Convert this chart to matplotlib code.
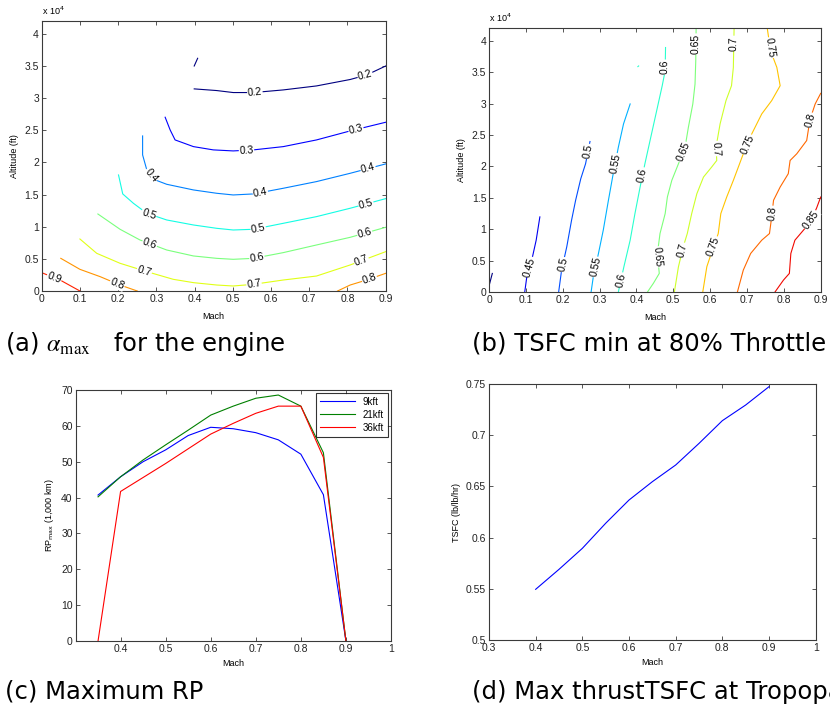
import numpy as np
import matplotlib
matplotlib.use("Agg")
import matplotlib.pyplot as plt
from matplotlib import cm
from matplotlib.colors import Normalize

plt.rcParams["font.family"] = ["Liberation Sans", "DejaVu Sans"]

# ---- (a) alpha_max contours : Mach / altitude (x 1e4 ft) ----
A02_M = [0.399, 0.458, 0.501, 0.554, 0.632, 0.719, 0.807, 0.850, 0.900]
A02_H = [3.144, 3.118, 3.087, 3.087, 3.128, 3.190, 3.290, 3.360, 3.500]
A02B_M = [0.399, 0.408]
A02B_H = [3.50, 3.62]
A03_M = [0.323, 0.336, 0.349, 0.397, 0.449, 0.501, 0.554, 0.632, 0.719, 0.807, 0.900]
A03_H = [2.703, 2.506, 2.350, 2.246, 2.195, 2.179, 2.195, 2.246, 2.350, 2.490, 2.625]
A04_M = [0.264, 0.264, 0.275, 0.297, 0.327, 0.397, 0.458, 0.501, 0.554, 0.632, 0.719, 0.807, 0.900]
A04_H = [2.412, 2.117, 1.883, 1.728, 1.660, 1.572, 1.520, 1.494, 1.510, 1.598, 1.702, 1.831, 1.977]
A05_M = [0.201, 0.212, 0.240, 0.275, 0.327, 0.397, 0.458, 0.501, 0.554, 0.632, 0.719, 0.807, 0.900]
A05_H = [1.805, 1.510, 1.364, 1.209, 1.105, 1.027, 0.975, 0.949, 0.960, 1.053, 1.157, 1.287, 1.437]
A06_M = [0.147, 0.205, 0.257, 0.327, 0.397, 0.458, 0.501, 0.554, 0.632, 0.719, 0.807, 0.900]
A06_H = [1.198, 0.960, 0.794, 0.638, 0.545, 0.508, 0.493, 0.508, 0.597, 0.716, 0.835, 0.991]
A07_M = [0.100, 0.144, 0.205, 0.275, 0.344, 0.397, 0.458, 0.501, 0.554, 0.632, 0.719, 0.807, 0.900]
A07_H = [0.809, 0.586, 0.431, 0.301, 0.182, 0.130, 0.093, 0.078, 0.104, 0.171, 0.233, 0.405, 0.612]
A08_M = [0.050, 0.100, 0.153, 0.205, 0.250]
A08_H = [0.508, 0.337, 0.223, 0.093, 0.0]
A08B_M = [0.774, 0.807, 0.850, 0.900]
A08B_H = [0.0, 0.093, 0.171, 0.275]
A09_M = [0.0, 0.048, 0.100]
A09_H = [0.285, 0.171, 0.0]

A_LAB_LEVEL = [0.2, 0.2, 0.3, 0.3, 0.4, 0.4, 0.4, 0.5, 0.5, 0.5, 0.6, 0.6, 0.6, 0.7, 0.7, 0.7, 0.8, 0.8, 0.9]
A_LAB_M = [0.558, 0.844, 0.536, 0.824, 0.286, 0.573, 0.855, 0.279, 0.567, 0.849,
           0.279, 0.564, 0.846, 0.268, 0.556, 0.837, 0.196, 0.859, 0.031]
A_LAB_H = [3.07, 3.40, 2.16, 2.47, 1.80, 1.50, 1.88, 1.17, 0.955, 1.34,
           0.68, 0.49, 0.88, 0.30, 0.085, 0.46, 0.09, 0.16, 0.18]

# ---- (b) TSFC min contours ----
B040_M = [0.0, 0.009]
B040_H = [0.095, 0.296]
B045_M = [0.097, 0.102, 0.116, 0.128, 0.138]
B045_H = [0.0, 0.217, 0.508, 0.825, 1.196]
B050_M = [0.189, 0.197, 0.211, 0.224, 0.235, 0.249, 0.262, 0.274]
B050_H = [0.0, 0.349, 0.720, 1.143, 1.460, 1.804, 2.042, 2.397]
B055_M = [0.277, 0.283, 0.297, 0.310, 0.324, 0.337, 0.351, 0.365, 0.383]
B055_H = [0.0, 0.243, 0.614, 0.984, 1.460, 1.884, 2.307, 2.677, 2.995]
B060_M = [0.351, 0.366, 0.383, 0.396, 0.410, 0.423, 0.437, 0.455, 0.470, 0.478, 0.479]
B060_H = [0.0, 0.402, 0.825, 1.249, 1.672, 2.042, 2.413, 2.889, 3.286, 3.524, 3.894]
B060B_M = [0.404, 0.406]
B060B_H = [3.59, 3.60]
B065_M = [0.430, 0.446, 0.462, 0.457, 0.464, 0.478, 0.484, 0.496, 0.514, 0.532, 0.541, 0.553, 0.559, 0.561, 0.562]
B065_H = [0.0, 0.138, 0.296, 0.614, 0.931, 1.249, 1.513, 1.778, 2.042, 2.307, 2.624, 2.995, 3.312, 3.683, 4.2]
B070_M = [0.503, 0.514, 0.527, 0.538, 0.550, 0.564, 0.582, 0.604, 0.618, 0.616, 0.627, 0.643, 0.658, 0.663, 0.665]
B070_H = [0.0, 0.402, 0.720, 0.931, 1.249, 1.566, 1.831, 1.989, 2.095, 2.307, 2.677, 3.048, 3.286, 3.577, 4.2]
B075_M = [0.580, 0.591, 0.609, 0.622, 0.629, 0.645, 0.663, 0.690, 0.713, 0.740, 0.767, 0.790, 0.781, 0.764, 0.755]
B075_H = [0.0, 0.402, 0.720, 0.931, 1.249, 1.513, 1.778, 2.201, 2.519, 2.836, 3.048, 3.286, 3.577, 3.841, 4.2]
B080_M = [0.674, 0.690, 0.710, 0.740, 0.761, 0.767, 0.772, 0.790, 0.812, 0.817, 0.835, 0.862, 0.869, 0.876, 0.885, 0.900]
B080_H = [0.0, 0.349, 0.614, 0.825, 0.931, 1.196, 1.460, 1.672, 1.884, 2.095, 2.201, 2.413, 2.677, 2.836, 2.995, 3.164]
B085_M = [0.776, 0.799, 0.815, 0.819, 0.830, 0.857, 0.876, 0.889, 0.900]
B085_H = [0.0, 0.190, 0.296, 0.614, 0.825, 1.011, 1.169, 1.339, 1.513]

B_LAB_LEVEL = [0.45, 0.5, 0.5, 0.55, 0.55, 0.6, 0.6, 0.6, 0.65, 0.65, 0.65,
               0.7, 0.7, 0.7, 0.75, 0.75, 0.75, 0.8, 0.8, 0.85]
B_LAB_M = [0.109, 0.206, 0.277, 0.288, 0.349, 0.360, 0.421, 0.480, 0.4595, 0.527, 0.5625,
           0.509, 0.604, 0.664, 0.627, 0.710, 0.763, 0.7715, 0.877, 0.880]
B_LAB_H = [0.40, 0.43, 2.23, 0.40, 2.04, 0.19, 1.86, 3.58, 0.56, 2.23, 3.95,
           0.69, 2.28, 3.96, 0.69, 2.33, 3.89, 1.25, 2.73, 1.12]

# ---- (c) maximum RP ----
mach_rp = [0.35, 0.40, 0.45, 0.50, 0.55, 0.60, 0.65, 0.70, 0.75, 0.80, 0.85, 0.90]
rp_9kft = [40.7, 45.8, 50.0, 53.3, 57.3, 59.6, 59.2, 58.1, 56.1, 52.1, 40.8, 0.0]
rp_21kft = [40.2, 45.8, 50.5, 54.7, 58.8, 63.0, 65.5, 67.7, 68.6, 65.5, 52.5, 0.0]
rp_36kft = [0.0, 41.7, 45.6, 49.5, 53.6, 57.7, 60.7, 63.5, 65.5, 65.5, 51.2, 0.0]
rp_labels = ["9kft", "21kft", "36kft"]

# ---- (d) max thrust TSFC at tropopause ----
mach_tsfc = [0.40, 0.45, 0.50, 0.55, 0.60, 0.65, 0.70, 0.75, 0.80, 0.85, 0.90]
tsfc = [0.5495, 0.569, 0.5895, 0.614, 0.6367, 0.6546, 0.6709, 0.692, 0.7142, 0.7295, 0.7474]

W, H = 830, 709
fig = plt.figure(figsize=(W / 100, H / 100), dpi=100)
fig.patch.set_facecolor("white")

TICK_FS = 7.5
EDGE = "#3a3a3a"


def box_axes(px):
    # px = (left, top, right, bottom) in pixels
    l, t, r, b = px
    ax = fig.add_axes([l / W, 1 - b / H, (r - l) / W, (b - t) / H])
    for s in ax.spines.values():
        s.set_color(EDGE)
        s.set_linewidth(0.8)
    ax.tick_params(direction="in", top=True, right=True, length=3, width=0.6,
                   colors=EDGE, labelsize=TICK_FS, labelcolor="#222222", pad=2)
    return ax


def fmt(v):
    return ("%g" % v)


def put_label(ax, xs, ys, x0, y0, txt):
    pts = ax.transData.transform(np.column_stack([xs, ys]))
    p = ax.transData.transform((x0, y0))
    best = None
    for i in range(len(pts) - 1):
        a, b = pts[i], pts[i + 1]
        d = b - a
        L = np.dot(d, d)
        u = 0.0 if L == 0 else np.clip(np.dot(p - a, d) / L, 0, 1)
        q = a + u * d
        dist = np.linalg.norm(p - q)
        if best is None or dist < best[0]:
            best = (dist, q, d)
    _, q, d = best
    ang = np.degrees(np.arctan2(d[1], d[0]))
    if ang > 90:
        ang -= 180
    if ang <= -90:
        ang += 180
    qx, qy = ax.transData.inverted().transform(q)
    ax.text(qx, qy, txt, rotation=ang, rotation_mode="anchor", ha="center", va="center",
            fontsize=7.5, color="black", zorder=5,
            bbox=dict(facecolor="white", edgecolor="none", pad=0.4))


def contour_panel(ax, lines, lab_level, lab_m, lab_h, norm):
    for lvl, m, h in lines:
        ax.plot(m, h, color=cm.jet(norm(lvl)), lw=0.8, zorder=2)
    for lvl, m, h in zip(lab_level, lab_m, lab_h):
        cands = [(mm, hh) for (lv, mm, hh) in lines if abs(lv - lvl) < 1e-9 and len(mm) > 2]
        # pick line closest to the label
        best = min(cands, key=lambda c: min(np.hypot(np.array(c[0]) - m, (np.array(c[1]) - h) / 4.67)))
        put_label(ax, best[0], best[1], m, h, fmt(lvl))


# ---------- (a) ----------
axa = box_axes((41.7, 21, 385.7, 291))
axa.set_xlim(0, 0.9)
axa.set_ylim(0, 4.2)
axa.set_xticks(np.arange(0, 0.91, 0.1))
axa.set_xticklabels([fmt(round(v, 1)) for v in np.arange(0, 0.91, 0.1)])
axa.set_yticks(np.arange(0, 4.01, 0.5))
axa.set_yticklabels([fmt(v) for v in np.arange(0, 4.01, 0.5)])
axa.set_xlabel("Mach", fontsize=6.5, labelpad=6)
axa.set_ylabel("Altitude (ft)", fontsize=6.5, labelpad=4)
axa.text(0.0, 1.015, r"x 10$^{4}$", transform=axa.transAxes, fontsize=6.5, va="bottom", ha="left")
a_lines = [(0.2, A02_M, A02_H), (0.2, A02B_M, A02B_H), (0.3, A03_M, A03_H), (0.4, A04_M, A04_H),
           (0.5, A05_M, A05_H), (0.6, A06_M, A06_H), (0.7, A07_M, A07_H), (0.8, A08_M, A08_H),
           (0.8, A08B_M, A08B_H), (0.9, A09_M, A09_H)]
contour_panel(axa, a_lines, A_LAB_LEVEL, A_LAB_M, A_LAB_H, Normalize(0.2, 1.0))

# ---------- (b) ----------
axb = box_axes((489, 28.3, 820.7, 292))
axb.set_xlim(0, 0.9)
axb.set_ylim(0, 4.2)
axb.set_xticks(np.arange(0, 0.91, 0.1))
axb.set_xticklabels([fmt(round(v, 1)) for v in np.arange(0, 0.91, 0.1)])
axb.set_yticks(np.arange(0, 4.01, 0.5))
axb.set_yticklabels([fmt(v) for v in np.arange(0, 4.01, 0.5)])
axb.set_xlabel("Mach", fontsize=6.5, labelpad=6)
axb.set_ylabel("Altitude (ft)", fontsize=6.5, labelpad=4)
axb.text(0.0, 1.015, r"x 10$^{4}$", transform=axb.transAxes, fontsize=6.5, va="bottom", ha="left")
b_lines = [(0.4, B040_M, B040_H), (0.45, B045_M, B045_H), (0.5, B050_M, B050_H),
           (0.55, B055_M, B055_H), (0.6, B060_M, B060_H), (0.6, B060B_M, B060B_H),
           (0.65, B065_M, B065_H), (0.7, B070_M, B070_H), (0.75, B075_M, B075_H),
           (0.8, B080_M, B080_H), (0.85, B085_M, B085_H)]
contour_panel(axb, b_lines, B_LAB_LEVEL, B_LAB_M, B_LAB_H, Normalize(0.4, 0.9))

# ---------- (c) ----------
axc = box_axes((75.5, 390, 391, 641))
axc.plot(mach_rp, rp_9kft, color="blue", lw=0.8, label=rp_labels[0])
axc.plot(mach_rp, rp_21kft, color="#008000", lw=0.8, label=rp_labels[1])
axc.plot(mach_rp, rp_36kft, color="red", lw=0.8, label=rp_labels[2])
axc.set_xlim(0.3, 1.0)
axc.set_ylim(0, 70)
axc.set_xticks(np.arange(0.4, 1.01, 0.1))
axc.set_xticklabels([fmt(round(v, 1)) for v in np.arange(0.4, 1.01, 0.1)])
axc.set_yticks(np.arange(0, 71, 10))
axc.set_xlabel("Mach", fontsize=6.5, labelpad=4)
axc.set_ylabel(r"RP$_{\mathrm{max}}$ (1,000 km)", fontsize=6.5, labelpad=4)
leg = axc.legend(loc="upper right", fontsize=7, frameon=True, fancybox=False,
                 borderaxespad=0.3, handlelength=3.6, labelspacing=0.3, borderpad=0.4)
leg.get_frame().set_edgecolor("black")
leg.get_frame().set_linewidth(0.8)

# ---------- (d) ----------
axd = box_axes((489, 384, 815.7, 640))
axd.plot(mach_tsfc, tsfc, color="blue", lw=0.8)
axd.set_xlim(0.3, 1.0)
axd.set_ylim(0.5, 0.75)
axd.set_xticks(np.arange(0.3, 1.01, 0.1))
axd.set_xticklabels([fmt(round(v, 1)) for v in np.arange(0.3, 1.01, 0.1)])
axd.set_yticks(np.arange(0.5, 0.751, 0.05))
axd.set_yticklabels([fmt(round(v, 2)) for v in np.arange(0.5, 0.751, 0.05)])
axd.set_xlabel("Mach", fontsize=6.5, labelpad=4)
axd.set_ylabel("TSFC (lb/lb/hr)", fontsize=6.5, labelpad=4)

# ---------- captions ----------
CAP = dict(fontsize=17.5, family=["DejaVu Sans"], va="center", ha="left")
fig.text(5 / W, 1 - 344 / H, r"(a) $\alpha_{\mathrm{max}}$   for the engine", math_fontfamily="stix", **CAP)
fig.text(472 / W, 1 - 344 / H, "(b) TSFC min at 80% Throttle", **CAP)
fig.text(5 / W, 1 - 692 / H, "(c) Maximum RP", **CAP)
fig.text(472 / W, 1 - 692 / H, "(d) Max thrustTSFC at Tropopause", **CAP)

fig.savefig("out.png", dpi=100)
